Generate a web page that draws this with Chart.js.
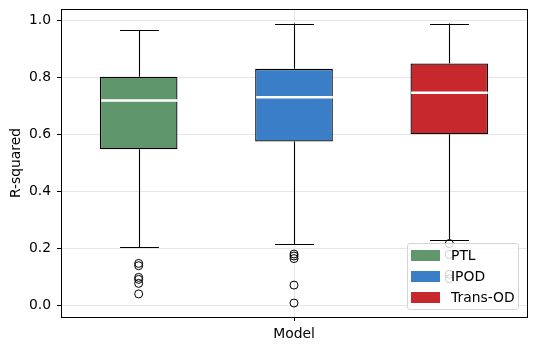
<!DOCTYPE html>
<html>
<head>
<meta charset="utf-8">
<script src="https://cdn.jsdelivr.net/npm/chart.js@4.4.1/dist/chart.umd.min.js"></script>
<style>
  html, body { margin: 0; padding: 0; background: #fff; }
  #wrap { position: relative; width: 536px; height: 351px; }
  #legend {
    position: absolute; left: 407px; top: 243px; width: 110px; height: 65px;
    background: rgba(255,255,255,0.8); border: 1px solid #d5d5d5; border-radius: 3px;
    font: 13.9px "DejaVu Sans", sans-serif; color: #000;
  }
  .item { position: absolute; left: 3px; height: 11px; }
  .sw { position: absolute; left: 0; top: 0; width: 29px; height: 11px; }
  .lbl { position: absolute; left: 40px; top: -3px; line-height: 17px; white-space: nowrap; }
</style>
</head>
<body>
<div id="wrap">
  <canvas id="myChart" width="536" height="351"></canvas>
  <div id="legend"></div>
</div>
<script>
// valeurs
const models = ['PTL', 'IPOD', 'Trans-OD'];
const colors = ['#5f966b', '#3a7ec7', '#c6282e'];
const lowerWhisker = [0.202, 0.213, 0.230];
const q1 = [0.547, 0.574, 0.599];
const median = [0.718, 0.729, 0.745];
const q3 = [0.801, 0.829, 0.848];
const upperWhisker = [0.964, 0.988, 0.988];
const outliers = [
    [0.146, 0.138, 0.097, 0.090, 0.076, 0.039],
    [0.179, 0.172, 0.163, 0.070, 0.007],
    [0.216, 0.178, 0.108, 0.092]
];
const yTicks = [0, 0.2, 0.4, 0.6, 0.8, 1.0];
const xLabel = 'Model';
const yLabel = 'R-squared';

const font = { family: 'DejaVu Sans', size: 13.9 };
const gridColor = '#e6e6e6';

// boites : barres flottantes [q1, q3]
const boxSets = models.map((m, i) => ({
    type: 'bar',
    label: m,
    data: models.map((_, j) => j === i ? [q1[i], q3[i]] : null),
    backgroundColor: colors[i],
    borderColor: '#000',
    borderWidth: 1.3,
    borderSkipped: false,
    grouped: false,
    barPercentage: 0.5,
    categoryPercentage: 1,
    xAxisID: 'x',
    yAxisID: 'y',
    order: 2
}));

// valeurs aberrantes
const outlierSets = outliers.map((vals, i) => ({
    type: 'scatter',
    label: 'outliers ' + models[i],
    data: vals.map(v => ({ x: i + 1, y: v })),
    pointStyle: 'circle',
    pointRadius: 4,
    pointBackgroundColor: 'rgba(0,0,0,0)',
    pointBorderColor: '#000',
    pointBorderWidth: 1,
    xAxisID: 'x2',
    yAxisID: 'y',
    order: 1
}));

// moustaches, mÃ©dianes et cadre
const boxExtras = {
    id: 'boxExtras',
    afterDatasetsDraw(chart) {
        const ctx = chart.ctx;
        const xs = chart.scales.x, ys = chart.scales.y;
        const catW = xs.getPixelForValue(1) - xs.getPixelForValue(0);
        const boxW = catW * 0.5;
        ctx.save();
        models.forEach((m, i) => {
            const cx = Math.round(xs.getPixelForValue(i)) + 0.5;
            const yMin = ys.getPixelForValue(lowerWhisker[i]);
            const yMax = ys.getPixelForValue(upperWhisker[i]);
            const yQ1 = ys.getPixelForValue(q1[i]);
            const yQ3 = ys.getPixelForValue(q3[i]);
            const yMed = ys.getPixelForValue(median[i]);
            ctx.strokeStyle = '#000';
            ctx.lineWidth = 1.1;
            ctx.beginPath();
            ctx.moveTo(cx, yQ3); ctx.lineTo(cx, yMax);
            ctx.moveTo(cx, yQ1); ctx.lineTo(cx, yMin);
            ctx.moveTo(cx - boxW / 4, Math.round(yMax) + 0.5); ctx.lineTo(cx + boxW / 4, Math.round(yMax) + 0.5);
            ctx.moveTo(cx - boxW / 4, Math.round(yMin) + 0.5); ctx.lineTo(cx + boxW / 4, Math.round(yMin) + 0.5);
            ctx.stroke();
            ctx.strokeStyle = '#fff';
            ctx.lineWidth = 2.5;
            ctx.beginPath();
            ctx.moveTo(cx - boxW / 2 + 0.5, yMed); ctx.lineTo(cx + boxW / 2 - 0.5, yMed);
            ctx.stroke();
        });
        ctx.restore();
    },
    afterDraw(chart) {
        const a = chart.chartArea, ctx = chart.ctx;
        ctx.save();
        ctx.strokeStyle = '#000';
        ctx.lineWidth = 1;
        ctx.strokeRect(Math.round(a.left) + 0.5, Math.round(a.top) + 0.5,
            Math.round(a.right - a.left), Math.round(a.bottom - a.top));
        ctx.restore();
    }
};

const ctx = document.getElementById('myChart').getContext('2d');
const myChart = new Chart(ctx, {
    type: 'bar',
    data: {
        labels: models,
        datasets: [...boxSets, ...outlierSets]
    },
    options: {
        responsive: false,
        animation: false,
        devicePixelRatio: 1,
        layout: { padding: { left: 0, top: 9, right: 9, bottom: 0 } },
        plugins: {
            legend: { display: false },
            tooltip: { enabled: false }
        },
        scales: {
            x: {
                type: 'category',
                labels: models,
                display: false,
                offset: true
            },
            x2: {
                type: 'linear',
                position: 'bottom',
                min: 0.5,
                max: 3.5,
                offset: false,
                afterBuildTicks: s => { s.ticks = [{ value: 2 }]; },
                afterFit: s => { s.height = 34; s.paddingLeft = 0; s.paddingRight = 0; },
                ticks: { callback: () => xLabel, font: font, color: '#000', padding: 5, maxRotation: 0 },
                grid: { color: gridColor, tickColor: '#000', tickLength: 4, offset: false },
                border: { display: false }
            },
            y: {
                type: 'linear',
                min: -0.042,
                max: 1.039,
                afterBuildTicks: s => { s.ticks = yTicks.map(v => ({ value: v })); },
                afterFit: s => { s.width = 61; s.paddingTop = 0; s.paddingBottom = 0; },
                ticks: { callback: v => v.toFixed(1), font: font, color: '#000', padding: 6 },
                grid: { color: gridColor, tickColor: '#000', tickLength: 4 },
                border: { display: false },
                title: { display: true, text: yLabel, font: font, color: '#000', padding: { top: 8, bottom: 0 } }
            }
        }
    },
    plugins: [boxExtras]
});

// lÃ©gende
const legend = document.getElementById('legend');
models.forEach((m, i) => {
    const item = document.createElement('div');
    item.className = 'item';
    item.style.top = (6 + i * 21) + 'px';
    item.innerHTML = '<div class="sw" style="background:' + colors[i] + '"></div><span class="lbl">' + m + '</span>';
    legend.appendChild(item);
});
</script>
</body>
</html>
